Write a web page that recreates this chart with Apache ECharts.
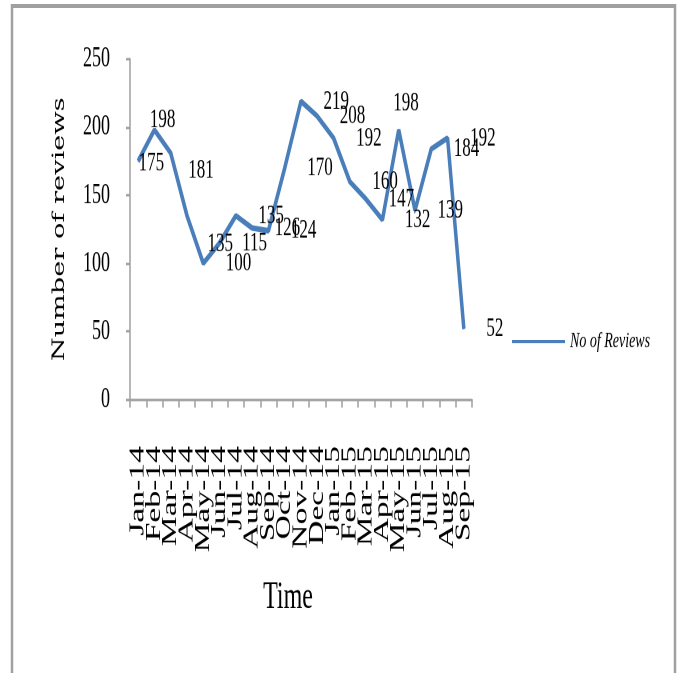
<!DOCTYPE html>
<html>
<head>
<meta charset="utf-8">
<title>Number of reviews over time</title>
<script src="https://cdn.jsdelivr.net/npm/echarts@6/dist/echarts.min.js"></script>
<style>
  html, body { margin: 0; padding: 0; background: #fff; width: 680px; height: 673px; }
  /* The chart is laid out on a shorter canvas and stretched vertically,
     giving the tall, narrow lettering of the original figure. */
  #chart {
    width: 680px;
    height: 420.625px;
    transform: scaleY(1.6);
    transform-origin: 0 0;
  }
</style>
</head>
<body>
<div id="chart"></div>
<script>
// Months on the x axis
const months = [
  'Jan-14', 'Feb-14', 'Mar-14', 'Apr-14', 'May-14', 'Jun-14', 'Jul-14',
  'Aug-14', 'Sep-14', 'Oct-14', 'Nov-14', 'Dec-14', 'Jan-15', 'Feb-15',
  'Mar-15', 'Apr-15', 'May-15', 'Jun-15', 'Jul-15', 'Aug-15', 'Sep-15'
];

// Reviews received each month
const reviews = [
  175, 198, 181, 135, 100, 115, 135,
  126, 124, 170, 219, 208, 192, 160,
  147, 132, 198, 139, 184, 192, 52
];

const seriesName = 'No of Reviews';
const xTitle = 'Time';
const yTitle = 'Number of reviews';

// y axis range and step
const yMin = 0;
const yMax = 250;
const yStep = 50;

const STRETCH = 1.6;          // vertical stretch applied to the canvas
const LINE_BLUE = '#4a7ebb';
const AXIS_GREY = '#a0a0a0';
const SERIF = '"Liberation Serif", "Times New Roman", serif';

// Value labels sit to the right of each point; a few are nudged
// (dx, dy in on-screen pixels) so they clear the line.
const labelNudge = {
  0: [-22, 2],
  1: [-27, -10],
  2: [-5, 17],
  3: [-2, 28],
  16: [-28, -27]
};

const chart = echarts.init(document.getElementById('chart'), null, {
  renderer: 'canvas',
  devicePixelRatio: 2
});

chart.setOption({
  animation: false,
  backgroundColor: '#ffffff',
  graphic: [
    {
      type: 'rect',
      silent: true,
      shape: { x: 12, y: 3.75, width: 663, height: 480 },
      style: { fill: 'none', stroke: AXIS_GREY, lineWidth: 2.5 }
    }
  ],
  grid: {
    left: 130,
    right: 208,
    top: 36.9,
    bottom: 171.2,
    containLabel: false
  },
  legend: {
    show: true,
    left: 512,
    top: 206.5,
    padding: 0,
    itemWidth: 53,
    itemHeight: 2,
    itemGap: 0,
    data: [{ name: seriesName, icon: 'rect' }],
    textStyle: {
      fontFamily: SERIF,
      fontStyle: 'italic',
      fontSize: 14,
      color: '#000'
    }
  },
  xAxis: {
    type: 'category',
    data: months,
    boundaryGap: true,
    name: xTitle,
    nameLocation: 'middle',
    nameGap: 112,
    nameTextStyle: {
      fontFamily: SERIF,
      fontSize: 24,
      color: '#000',
      padding: [0, 26, 0, 0]
    },
    axisLine: { show: true, lineStyle: { color: AXIS_GREY, width: 1.5 } },
    axisTick: { show: true, interval: 0, length: 5, lineStyle: { color: AXIS_GREY, width: 1.5 } },
    axisLabel: {
      interval: 0,
      rotate: 90,
      margin: 29,
      fontFamily: SERIF,
      fontSize: 21,
      color: '#000',
      hideOverlap: false
    },
    splitLine: { show: false }
  },
  yAxis: {
    type: 'value',
    min: yMin,
    max: yMax,
    interval: yStep,
    name: yTitle,
    nameLocation: 'middle',
    nameGap: 62,
    nameTextStyle: {
      fontFamily: '"DejaVu Serif", serif',
      fontSize: 17,
      color: '#000'
    },
    axisLine: { show: true, lineStyle: { color: AXIS_GREY, width: 1.5 } },
    axisTick: { show: true, length: 4, lineStyle: { color: AXIS_GREY, width: 1.5 } },
    axisLabel: {
      margin: 20,
      fontFamily: SERIF,
      fontSize: 18,
      color: '#000'
    },
    splitLine: { show: false }
  },
  series: [
    {
      name: seriesName,
      type: 'line',
      data: reviews,
      symbol: 'circle',
      symbolSize: 1,
      showSymbol: true,
      showAllSymbol: true,
      color: LINE_BLUE,
      itemStyle: { color: LINE_BLUE },
      lineStyle: { color: LINE_BLUE, width: 3.5 },
      label: {
        show: true,
        position: 'right',
        distance: 22,
        fontFamily: SERIF,
        fontSize: 17,
        color: '#000'
      },
      labelLayout: function (params) {
        const n = labelNudge[params.dataIndex];
        if (!n) return { hideOverlap: false };
        return { dx: n[0], dy: n[1] / STRETCH, hideOverlap: false };
      },
      emphasis: { disabled: true }
    }
  ]
});
</script>
</body>
</html>
